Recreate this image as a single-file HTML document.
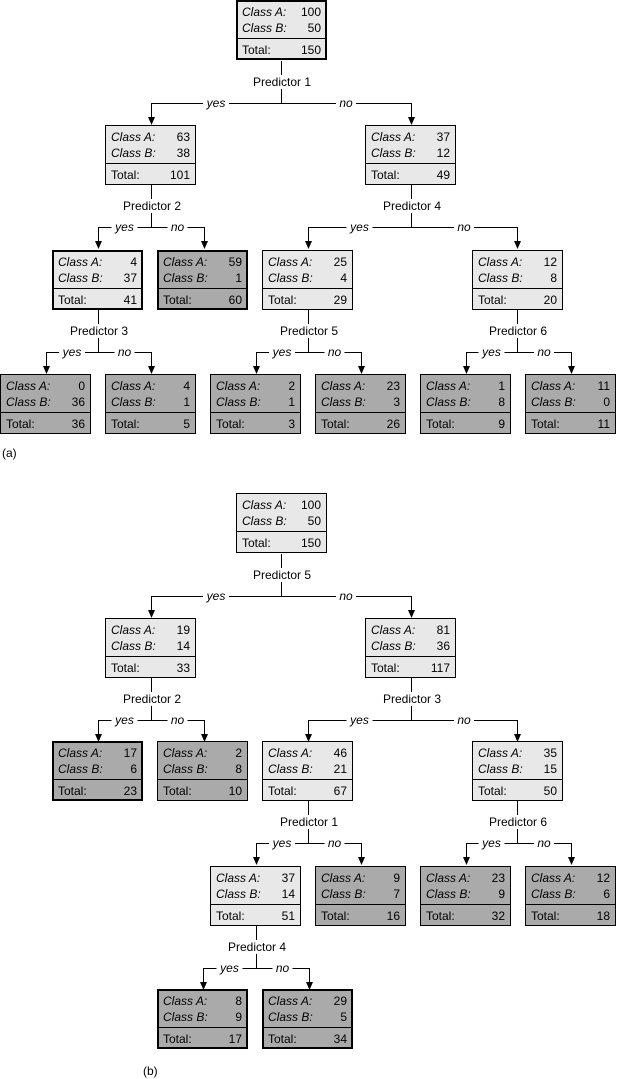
<!DOCTYPE html>
<html><head><meta charset="utf-8"><style>
html,body{margin:0;padding:0;background:#fff}
svg{display:block;font-family:"Liberation Sans",sans-serif;font-size:12px}
.i{font-style:italic}
</style></head><body>
<svg width="617" height="1079" viewBox="0 0 617 1079" xmlns="http://www.w3.org/2000/svg">
<defs><marker id="a" markerWidth="8" markerHeight="8" refX="3" refY="6" orient="auto" markerUnits="userSpaceOnUse"><path d="M0,0 L6,0 L3,7 z" transform="translate(0,0)" fill="#000"/></marker></defs>
<g id="boxes"></g>
<g id="conns" stroke="#000" stroke-width="1" fill="none"></g>
<g id="labels"></g>
</svg>
<script>
var NS="http://www.w3.org/2000/svg";
function el(p,t,a,txt){var e=document.createElementNS(NS,t);for(var k in a)e.setAttribute(k,a[k]);if(txt!=null)e.textContent=txt;p.appendChild(e);return e;}
var B=document.getElementById('boxes'),C=document.getElementById('conns'),L=document.getElementById('labels');
function box(x,y,a,b,t,dark,thick){
 var sw=thick?2:1,o=sw/2;
 el(B,'rect',{x:x+o,y:y+o,width:91-sw,height:60-sw,fill:dark?'#aaaaaa':'#e8e8e8',stroke:'#000','stroke-width':sw});
 el(B,'line',{x1:x,y1:y+38.5,x2:x+91,y2:y+38.5,stroke:'#000','stroke-width':1});
 el(B,'text',{x:x+6,y:y+16,'class':'i'},'Class A:');
 el(B,'text',{x:x+85,y:y+16,'text-anchor':'end'},a);
 el(B,'text',{x:x+6,y:y+32,'class':'i'},'Class B:');
 el(B,'text',{x:x+85,y:y+32,'text-anchor':'end'},b);
 el(B,'text',{x:x+6,y:y+54},'Total:');
 el(B,'text',{x:x+85,y:y+54,'text-anchor':'end'},t);
}
function conn(cx,pb,lx,rx,name){
 var h=pb+42,ct=h+22;
 el(C,'line',{x1:cx+.5,y1:pb,x2:cx+.5,y2:pb+14});
 el(C,'line',{x1:cx+.5,y1:pb+28,x2:cx+.5,y2:h+.5});
 el(L,'text',{x:cx+1,y:pb+25,'text-anchor':'middle'},name);
 var ym=(lx+cx)/2,nm=(rx+cx)/2;
 el(C,'path',{d:'M'+(lx+.5)+','+(ct-1)+' L'+(lx+.5)+','+(h+.5)+' L'+(ym-13)+','+(h+.5)});
 el(C,'path',{d:'M'+(ym+13)+','+(h+.5)+' L'+(nm-10)+','+(h+.5)});
 el(C,'path',{d:'M'+(nm+10)+','+(h+.5)+' L'+(rx+.5)+','+(h+.5)+' L'+(rx+.5)+','+(ct-1)});
 el(L,'path',{d:'M'+(lx-3)+','+(ct-8)+' L'+(lx+4)+','+(ct-8)+' L'+(lx+.5)+','+ct+' z',fill:'#000'});
 el(L,'path',{d:'M'+(rx-3)+','+(ct-8)+' L'+(rx+4)+','+(ct-8)+' L'+(rx+.5)+','+ct+' z',fill:'#000'});
 el(L,'text',{x:ym,y:h+4,'text-anchor':'middle','class':'i'},'yes');
 el(L,'text',{x:nm,y:h+4,'text-anchor':'middle','class':'i'},'no');
}
// (a)
box(236,0,'100','50','150',0,1);
box(105,125,'63','38','101',0,0);
box(365,125,'37','12','49',0,0);
box(52,250,'4','37','41',0,1);
box(157,250,'59','1','60',1,1);
box(262,250,'25','4','29',0,0);
box(472,250,'12','8','20',0,0);
box(0,374,'0','36','36',1,0);
box(105,374,'4','1','5',1,0);
box(210,374,'2','1','3',1,0);
box(315,374,'23','3','26',1,0);
box(420,374,'1','8','9',1,0);
box(525,374,'11','0','11',1,0);
conn(281,61,151,411,'Predictor 1');
conn(151,185,98,204,'Predictor 2');
conn(411,185,308,517,'Predictor 4');
conn(98,310,46,151,'Predictor 3');
conn(308,310,256,361,'Predictor 5');
conn(517,310,466,571,'Predictor 6');
el(L,'text',{x:2,y:457},'(a)');
// (b)
box(236,493,'100','50','150',0,0);
box(105,618,'19','14','33',0,0);
box(365,618,'81','36','117',0,0);
box(52,741,'17','6','23',1,1);
box(157,741,'2','8','10',1,0);
box(262,741,'46','21','67',0,0);
box(472,741,'35','15','50',0,0);
box(210,866,'37','14','51',0,0);
box(315,866,'9','7','16',1,0);
box(420,866,'23','9','32',1,0);
box(525,866,'12','6','18',1,0);
box(157,989,'8','9','17',1,1);
box(262,989,'29','5','34',1,1);
conn(281,554,151,411,'Predictor 5');
conn(151,678,98,204,'Predictor 2');
conn(411,678,308,517,'Predictor 3');
conn(308,801,256,361,'Predictor 1');
conn(517,801,466,571,'Predictor 6');
conn(256,926,203,309,'Predictor 4');
el(L,'text',{x:143,y:1075},'(b)');
</script>
</body></html>
